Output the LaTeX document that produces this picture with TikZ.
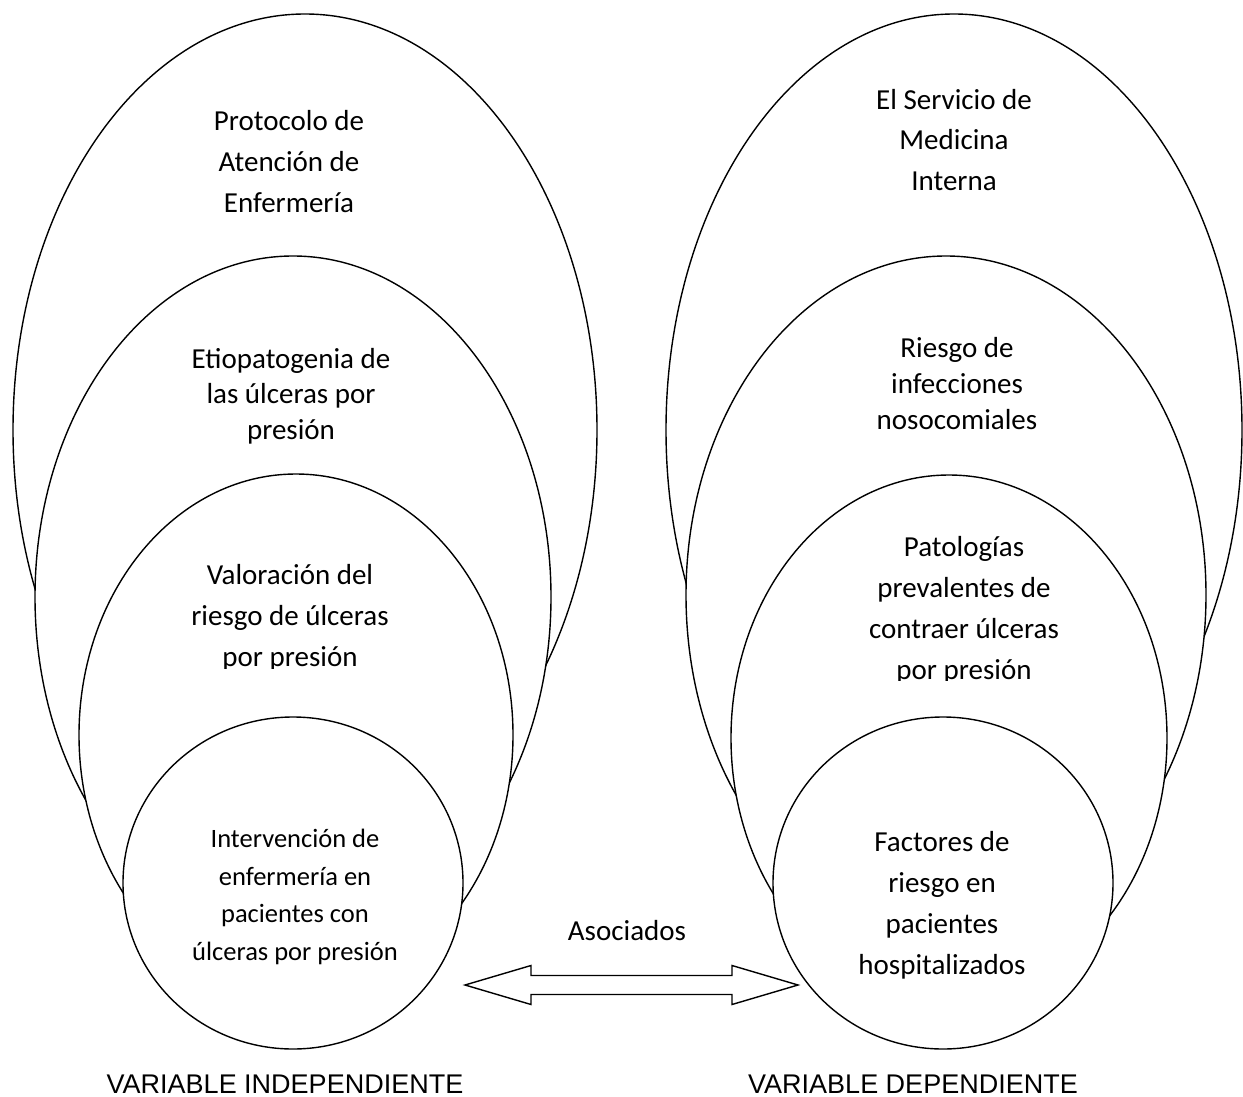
\documentclass[tikz,border=0pt]{standalone}
\usepackage{fontspec}
\setmainfont{Carlito}
\newfontfamily\labelfont{Liberation Sans}
\begin{document}
\begin{tikzpicture}[x=1pt,y=-1pt,
  ring/.style={draw, fill=white, line width=1.4pt},
  txt/.style={align=center, anchor=base, inner sep=0pt, font=\fontsize{29}{#1}\selectfont},
  smalltxt/.style={align=center, anchor=base, inner sep=0pt, font=\fontsize{26.5}{#1}\selectfont},
  varlbl/.style={anchor=base, inner sep=0pt, font=\labelfont\fontsize{27}{32}\selectfont}]
\useasboundingbox (0,0) rectangle (1243,1097);

% Variable independiente
\draw[ring] (305,430) ellipse [x radius=292, y radius=416];
\node[txt=41] (protocolo) at (289,212) {Protocolo de\\Atención de\\Enfermería};
\draw[ring] (293,597) ellipse [x radius=258, y radius=341];
\node[txt=35.5] (etiopat) at (291,439) {Etiopatogenia de\\las úlceras por\\presión};
\draw[ring] (296,735) ellipse [x radius=217, y radius=261];
\begin{scope}
\clip (0,0) rectangle (620,668);
\node[txt=41] (valoracion) at (290,666) {Valoración del\\riesgo de úlceras\\por presión};
\end{scope}
\draw[ring] (293,883) ellipse [x radius=170, y radius=166];
\node[smalltxt=37.5] (intervencion) at (295,960) {Intervención de\\enfermería en\\pacientes con\\úlceras por presión};

% Variable dependiente
\draw[ring] (954,430) ellipse [x radius=288, y radius=416];
\node[txt=40.5] (servicio) at (954,190) {El Servicio de\\Medicina\\Interna};
\draw[ring] (946,595) ellipse [x radius=260, y radius=339];
\node[txt=36] (riesgo) at (957,429) {Riesgo de\\infecciones\\nosocomiales};
\draw[ring] (949,738) ellipse [x radius=218, y radius=263];
\begin{scope}
\clip (620,0) rectangle (1243,680);
\node[txt=41] (patologias) at (964,679) {Patologías\\prevalentes de\\contraer úlceras\\por presión};
\end{scope}
\draw[ring] (943,883) ellipse [x radius=170, y radius=166];
\node[txt=41] (factores) at (942,974) {Factores de\\riesgo en\\pacientes\\hospitalizados};

% Asociados
\coordinate (tipL) at (465,985);
\coordinate (tipR) at (798,985);
\draw[line width=1.4pt, fill=white] (tipL) -- ++(66,-19.5) -- ++(0,10) -- ++(201,0) -- ++(0,-10)
  -- (tipR) -- ++(-66,19.5) -- ++(0,-10) -- ++(-201,0) -- ++(0,10) -- cycle;
\node[txt=35] (asociados) at (627,940) {Asociados};

% Labels
\node[varlbl] (indep) at (285,1093) {VARIABLE INDEPENDIENTE};
\node[varlbl] (dep) at (913,1093) {VARIABLE DEPENDIENTE};
\end{tikzpicture}
\end{document}
